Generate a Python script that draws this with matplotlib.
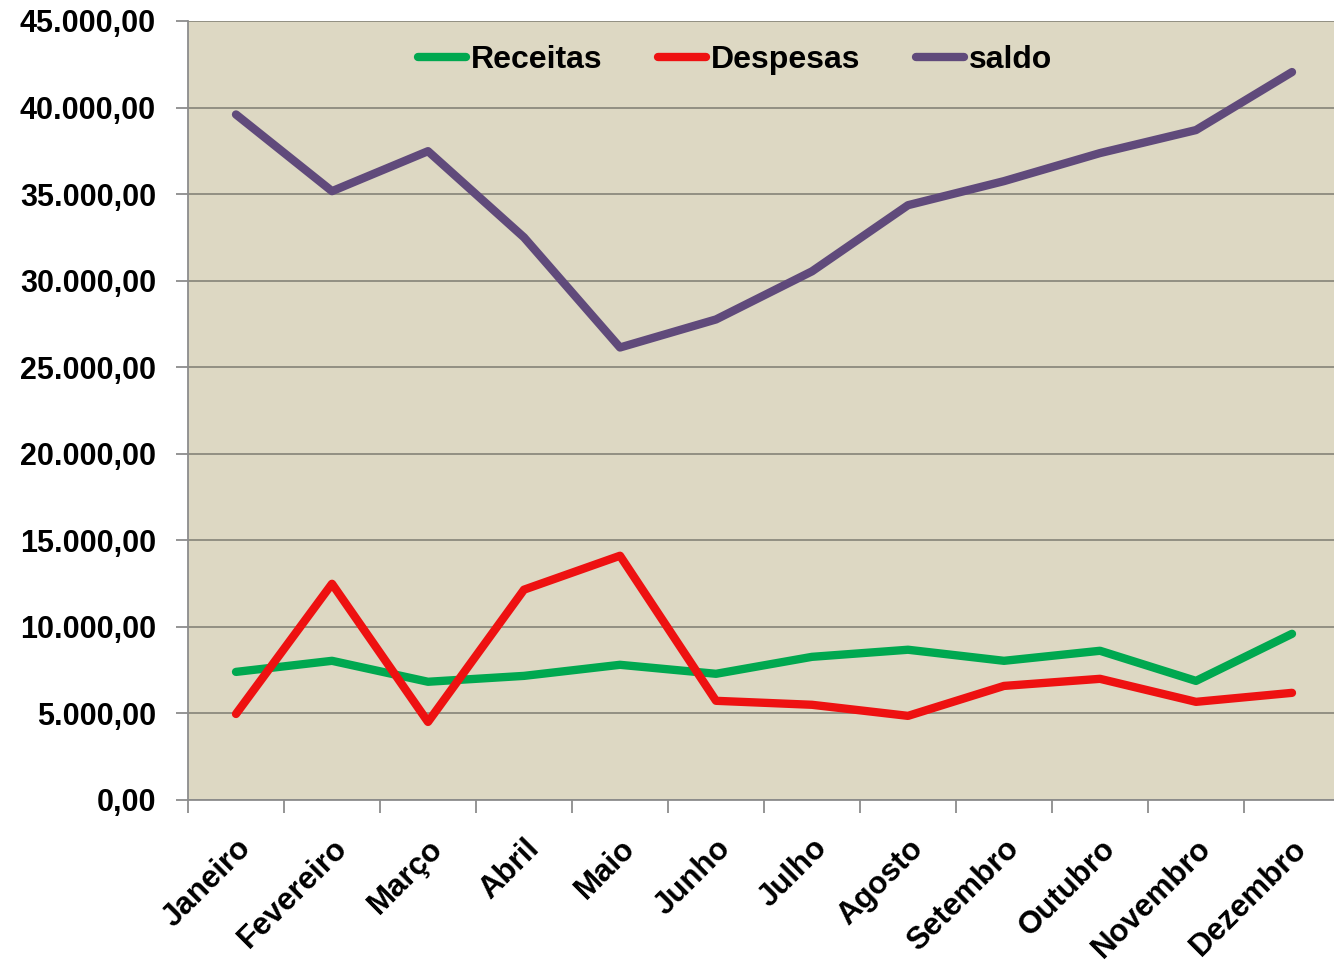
import matplotlib
matplotlib.use('Agg')
import matplotlib.pyplot as plt
from matplotlib.ticker import FuncFormatter, FixedLocator
import numpy as np

meses = ['Janeiro', 'Fevereiro', 'Março', 'Abril', 'Maio', 'Junho',
         'Julho', 'Agosto', 'Setembro', 'Outubro', 'Novembro', 'Dezembro']
receitas = [7400, 8040, 6830, 7170, 7810, 7290, 8270, 8680, 8040, 8620, 6880, 9600]
despesas = [4970, 12490, 4510, 12150, 14110, 5730, 5500, 4860, 6590, 7000, 5670, 6190]
saldo = [39600, 35170, 37480, 32500, 26140, 27760, 30540, 34360, 35750, 37370, 38700, 42050]

plt.rcParams['font.family'] = ['Liberation Sans', 'DejaVu Sans']
plt.rcParams['font.weight'] = 'bold'

fig = plt.figure(figsize=(13.34, 9.65), dpi=100)
ax = fig.add_axes([188/1334, 165/965, 1152/1334, 779/965])
ax.set_facecolor('#ddd8c3')

x = np.arange(len(meses))
estilo = dict(lw=6, solid_capstyle='round', solid_joinstyle='round')
ax.plot(x, receitas, color='#00a850', label='Receitas', **estilo)
ax.plot(x, despesas, color='#ee1111', label='Despesas', **estilo)
ax.plot(x, saldo, color='#604a7b', label='saldo', **estilo)

ax.set_xlim(-0.5, 11.5)
ax.set_ylim(0, 45000)
ax.set_yticks(np.arange(0, 45001, 5000))
ax.yaxis.set_major_formatter(FuncFormatter(
    lambda v, p: '{:,.2f}'.format(v).replace(',', 'X').replace('.', ',').replace('X', '.')))
ax.grid(axis='y', color='#8c8a7e', lw=1.3)
ax.set_axisbelow(True)

ax.xaxis.set_major_locator(FixedLocator(np.arange(-0.5, 12, 1)))
ax.xaxis.set_major_formatter(FuncFormatter(lambda v, p: ''))
ax.set_xticks(x, minor=True)
ax.set_xticklabels(meses, minor=True, rotation=45, ha='right', rotation_mode='anchor', fontsize=22.5)
ax.tick_params(axis='x', which='minor', length=0, pad=24)
ax.tick_params(axis='x', which='major', length=9, color='#8c8c8c', width=1.3)
ax.tick_params(axis='y', length=9, color='#8c8c8c', width=1.3, labelsize=22, pad=14)

for s in ['top', 'right']:
    ax.spines[s].set_visible(False)
for s in ['left', 'bottom']:
    ax.spines[s].set_color('#8c8c8c')
    ax.spines[s].set_linewidth(1.3)

ax.legend(loc='upper center', bbox_to_anchor=(0.475, 1.006), ncol=3, frameon=False,
          fontsize=23, handlelength=1.5, handletextpad=0.15, columnspacing=1.75)

plt.savefig('out.png', dpi=100)
plt.close()
